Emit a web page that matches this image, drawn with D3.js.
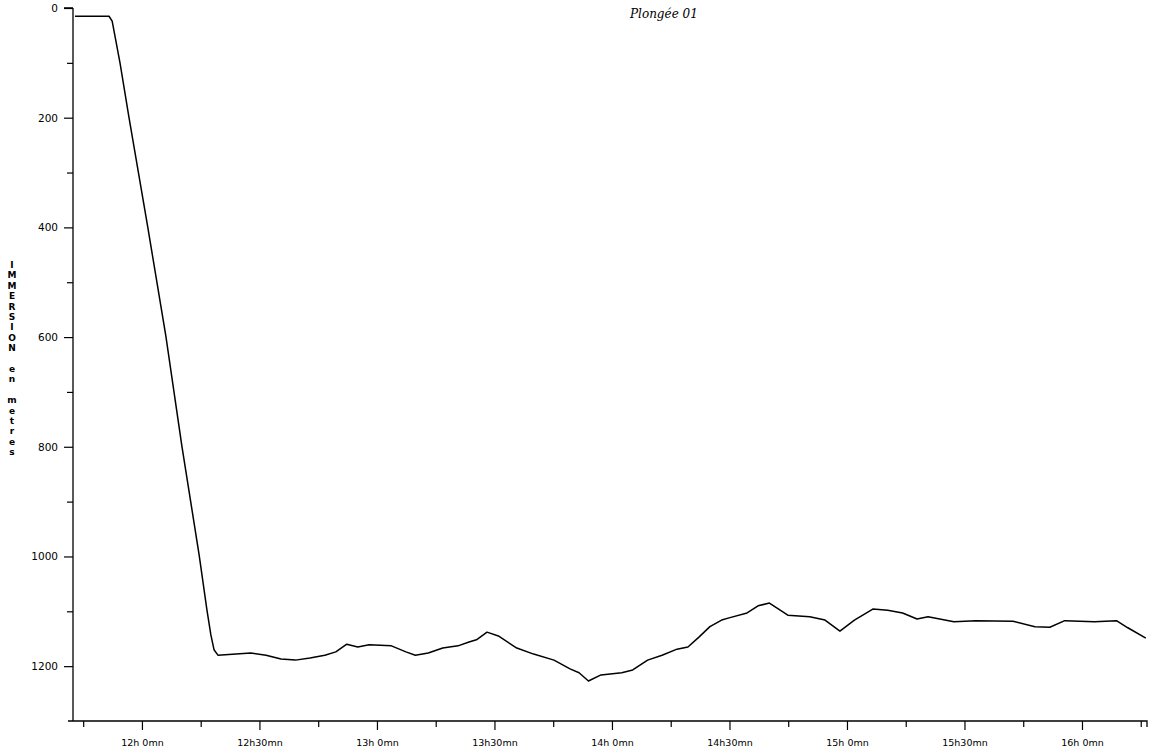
<!DOCTYPE html>
<html>
<head>
<meta charset="utf-8">
<script src="https://cdn.jsdelivr.net/npm/d3@7/dist/d3.min.js"></script>
<style>
  html, body { margin: 0; padding: 0; background: #fff; }
  svg { display: block; }
</style>
</head>
<body>
<svg id="chart" width="1149" height="752"></svg>
<script>
// minutes after 12h00
const times = [-17.1, -8.4, -7.6, -5.6, -3.3, 1.5, 6.1, 10.2, 14.6, 16.6,
  17.6, 18.4, 19.4, 24, 27.8, 31.7, 35.5, 39.2, 42.9, 46.7,
  49.5, 52.3, 55.1, 58, 63.7, 67.4, 69.8, 73.1, 76.8, 80.7,
  83.5, 85.4, 88.1, 91, 95.7, 100, 105.2, 109.3, 111.6, 114,
  117.2, 122.5, 125.3, 129.1, 132.8, 136.6, 139.4, 142.2, 145, 148,
  149.9, 154.5, 157.3, 160.2, 164.9, 170.5, 174.4, 178.2, 181.9, 186.6,
  190.4, 194.2, 197.9, 200.7, 207.3, 212.9, 222.4, 228, 231.8, 235.6,
  243.2, 248.8, 251.7, 256.3];
// immersion depth in metres
const depths = [15, 15, 24, 100, 200, 400, 598, 799, 997, 1098,
  1143, 1170, 1180, 1178, 1176, 1180, 1187, 1189, 1185, 1180,
  1174, 1160, 1165, 1161, 1163, 1174, 1180, 1176, 1167, 1163,
  1156, 1152, 1138, 1145, 1167, 1178, 1189, 1205, 1212, 1227,
  1216, 1212, 1207, 1189, 1180, 1169, 1165, 1147, 1128, 1116,
  1112, 1103, 1090, 1085, 1107, 1110, 1116, 1136, 1116, 1096,
  1098, 1103, 1114, 1110, 1119, 1117, 1118, 1128, 1129, 1117,
  1119, 1117, 1130, 1149];

const yMajorTicks = [0, 200, 400, 600, 800, 1000, 1200];
const yMinorTicks = [100, 300, 500, 700, 900, 1100];
const xMajorTicks = [0, 30, 60, 90, 120, 150, 180, 210, 240];
const xMajorLabels = ["12h 0mn", "12h30mn", "13h 0mn", "13h30mn", "14h 0mn", "14h30mn", "15h 0mn", "15h30mn", "16h 0mn"];
const xMinorTicks = [-15, 15, 45, 75, 105, 135, 165, 195, 225, 255];
const yTitle = "IMMERSION en metres";
const chartTitle = "Plongée 01";

const svg = d3.select("#chart");
const x = d3.scaleLinear().domain([-17.6, 256.6]).range([73, 1147]);
const y = d3.scaleLinear().domain([0, 1300]).range([8, 721]);

const fontFam = "'DejaVu Sans', Arial, sans-serif";

// Y axis
const yAxis = d3.axisLeft(y).tickValues(yMajorTicks).tickSize(9).tickPadding(6).tickFormat(d3.format("d"));
const gy = svg.append("g").attr("transform", `translate(${x(-17.6)},0)`).call(yAxis);
gy.select(".domain").attr("d", `M0,${y(0)}H-9M0,${y(0)}V${y(1300)}`).attr("stroke-width", 1.3);
gy.selectAll(".tick line").attr("stroke-width", 1.2);
gy.selectAll(".tick text").attr("font-family", fontFam).attr("font-size", 10.5).attr("fill", "#000");
const gyMinor = svg.append("g").attr("transform", `translate(${x(-17.6)},0)`)
  .call(d3.axisLeft(y).tickValues(yMinorTicks).tickSize(6).tickFormat(""));
gyMinor.select(".domain").remove();
gyMinor.selectAll(".tick line").attr("stroke-width", 1.2);

// X axis
const xAxis = d3.axisBottom(x).tickValues(xMajorTicks).tickSize(9).tickPadding(9)
  .tickFormat((d, i) => xMajorLabels[i]);
const gx = svg.append("g").attr("transform", `translate(0,${y(1300)})`).call(xAxis);
gx.select(".domain").attr("d", `M68,0H${x(256.6)}V6`).attr("stroke-width", 1.3);
gx.selectAll(".tick line").attr("stroke-width", 1.2);
gx.selectAll(".tick text").attr("font-family", fontFam).attr("font-size", 9.5).attr("fill", "#000");
const gxMinor = svg.append("g").attr("transform", `translate(0,${y(1300)})`)
  .call(d3.axisBottom(x).tickValues(xMinorTicks).tickSize(6).tickFormat(""));
gxMinor.select(".domain").remove();
gxMinor.selectAll(".tick line").attr("stroke-width", 1.2);

// Y title: stacked characters
const chars = yTitle.split("");
svg.append("g").selectAll("text").data(chars).join("text")
  .attr("x", 12)
  .attr("y", (d, i) => 268 + i * 10.4)
  .attr("text-anchor", "middle")
  .attr("font-family", fontFam)
  .attr("font-size", 9)
  .attr("font-weight", "bold")
  .text(d => d);

// Chart title
svg.append("text")
  .attr("x", 630).attr("y", 18)
  .attr("font-family", "'DejaVu Serif', serif")
  .attr("font-style", "italic")
  .attr("font-size", 12)
  .text(chartTitle);

// Line
const data = times.map((t, i) => ({ t, d: depths[i] }));
const line = d3.line().x(d => x(d.t)).y(d => y(d.d));
svg.append("path").datum(data)
  .attr("d", line)
  .attr("fill", "none")
  .attr("stroke", "#000")
  .attr("stroke-width", 1.5)
  .attr("stroke-linejoin", "round");
</script>
</body>
</html>
